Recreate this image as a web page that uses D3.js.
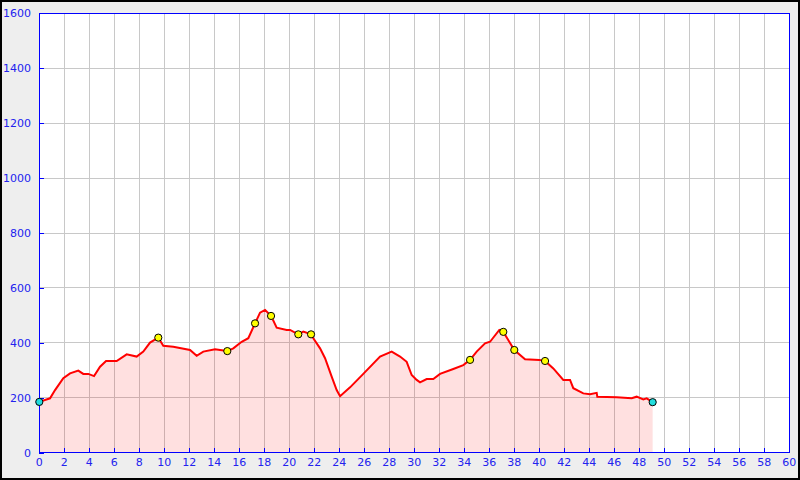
<!DOCTYPE html>
<html><head><meta charset="utf-8">
<script src="https://cdn.jsdelivr.net/npm/d3@7"></script>
<style>html,body{margin:0;padding:0;background:#fff;}svg{display:block;}</style>
</head><body>
<svg id="c" width="800" height="480"></svg>
<script>
// distance (km) and elevation (m) along the profile
const distKm = [0,0.86,1.26,1.92,2.46,3.12,3.52,3.92,4.38,4.86,5.34,6.19,6.99,7.79,8.32,8.86,9.52,9.92,10.72,12.06,12.59,13.12,14.06,14.46,15.04,15.52,16.19,16.72,17.26,17.66,18.06,18.54,18.99,19.79,20.06,20.72,21.12,21.74,21.92,22.46,22.86,23.39,23.79,24.06,24.86,25.92,27.26,28.19,28.86,29.39,29.79,30.19,30.46,30.99,31.52,32.06,33.12,33.92,34.46,34.99,35.66,36.06,36.8,37.12,37.6,38.0,38.86,40.0,40.46,41.12,41.92,42.46,42.72,43.52,44.06,44.59,44.64,46.19,47.39,47.79,48.32,48.59,49.07];
const elevM  = [185,198,228,271,289,299,287,287,279,313,334,334,358,350,368,401,419,389,386,374,353,368,377,374,370,380,404,417,471,510,520,498,455,447,447,431,441,431,417,380,344,277,228,206,238,287,350,368,350,331,283,265,256,268,268,287,305,319,338,368,398,404,447,440,404,374,340,338,334,307,265,265,235,216,213,218,204,202,198,204,194,198,184];
// waypoint markers
const wpKm = [9.52,15.04,17.26,18.54,20.72,21.74,34.46,37.12,38.0,40.46];
const wpM  = [419,370,471,498,431,431,338,440,374,334];
const endKm = [0,49.07];
const endM  = [185,184];
const xTicks = d3.range(0,61,2);
const yTicks = d3.range(0,1601,200);

const svg = d3.select("#c");
const L=39.3, R=789.3, T=13.3, B=452.7;
const x = d3.scaleLinear().domain([0,60]).range([L,R]);
const y = d3.scaleLinear().domain([0,1600]).range([B,T]);

svg.append("rect").attr("x",1).attr("y",1).attr("width",798).attr("height",478)
  .attr("fill","#eeeeee").attr("stroke","#000").attr("stroke-width",2);
svg.append("rect").attr("x",L).attr("y",T).attr("width",R-L).attr("height",B-T).attr("fill","#fff");

// grid
const g = svg.append("g").attr("stroke","#c8c8c8").attr("stroke-width",1).attr("shape-rendering","crispEdges");
xTicks.forEach(t=>g.append("line").attr("x1",x(t)).attr("x2",x(t)).attr("y1",T).attr("y2",B));
yTicks.forEach(t=>g.append("line").attr("x1",L).attr("x2",R).attr("y1",y(t)).attr("y2",y(t)));

const pts = distKm.map((d,i)=>[d,elevM[i]]);
svg.append("path").datum(pts)
  .attr("d", d3.area().x(d=>x(d[0])).y0(y(0)).y1(d=>y(d[1])))
  .attr("fill","rgba(255,0,0,0.12)");
svg.append("path").datum(pts)
  .attr("d", d3.line().x(d=>x(d[0])).y(d=>y(d[1])))
  .attr("fill","none").attr("stroke","#ff0000").attr("stroke-width",2);

// frame
svg.append("rect").attr("x",L).attr("y",T).attr("width",R-L).attr("height",B-T)
  .attr("fill","none").attr("stroke","#0000ff").attr("stroke-width",1).attr("shape-rendering","crispEdges");

// axes
const xa = svg.append("g").attr("transform",`translate(0,${B})`)
  .call(d3.axisTop(x).tickValues(xTicks).tickSize(5).tickFormat(""));
xa.select(".domain").remove();
xa.selectAll("line").attr("stroke","#0000ff").attr("shape-rendering","crispEdges");
const ya = svg.append("g").attr("transform",`translate(${L},0)`)
  .call(d3.axisRight(y).tickValues(yTicks).tickSize(5).tickFormat(""));
ya.select(".domain").remove();
ya.selectAll("line").attr("stroke","#0000ff").attr("shape-rendering","crispEdges");

const lab = svg.append("g").attr("font-family","DejaVu Sans").attr("font-size",11).attr("fill","#2222ee");
xTicks.forEach(t=>lab.append("text").attr("x",x(t)).attr("y",465.5).attr("text-anchor","middle").text(t));
yTicks.forEach(t=>lab.append("text").attr("x",31).attr("y",y(t)+4).attr("text-anchor","end").text(t));

svg.selectAll(".wp").data(wpKm).enter().append("circle")
  .attr("cx",(d)=>x(d)).attr("cy",(d,i)=>y(wpM[i])).attr("r",3.6)
  .attr("fill","#ffff00").attr("stroke","#000").attr("stroke-width",1);
svg.selectAll(".ep").data(endKm).enter().append("circle")
  .attr("cx",(d)=>x(d)).attr("cy",(d,i)=>y(endM[i])).attr("r",3.6)
  .attr("fill","#22dddd").attr("stroke","#000").attr("stroke-width",1);
</script>
</body></html>
